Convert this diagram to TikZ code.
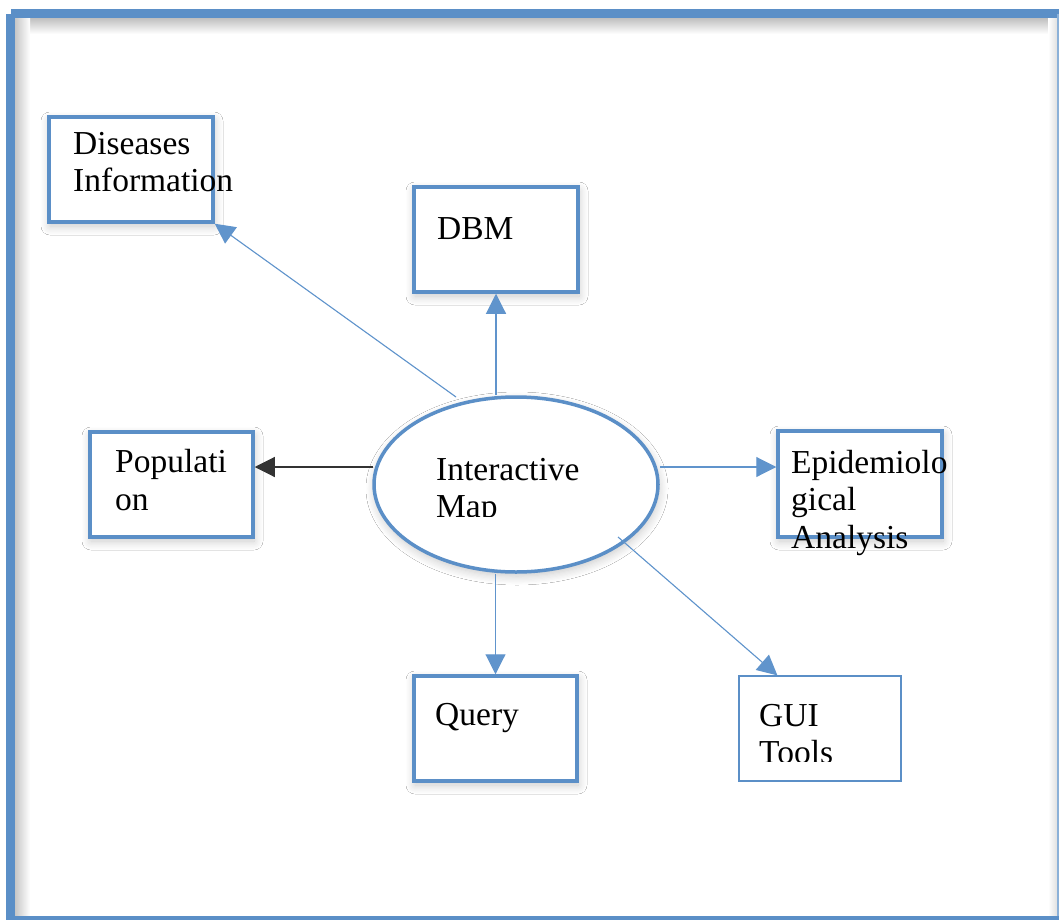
\documentclass[tikz,border=0pt]{standalone}
\usepackage{fontspec}
\setmainfont{Liberation Serif}
\usetikzlibrary{arrows.meta,shapes.geometric,shadows.blur,calc}
\definecolor{frameblue}{HTML}{5B8FC7}
\definecolor{lineblue}{HTML}{6094CC}

\begin{document}
\begin{tikzpicture}[x=1pt,y=-1pt,
  soft/.style={blur shadow={shadow xshift=1pt, shadow yshift=-4pt,
      shadow blur radius=9pt, shadow blur steps=8, shadow opacity=22}},
  box/.style={rectangle, draw=frameblue, line width=3.5pt, fill=white,
      inner sep=0pt, soft},
  thinbox/.style={rectangle, draw=frameblue, line width=1.2pt, fill=white,
      inner sep=0pt},
  oval/.style={ellipse, draw=frameblue, line width=3.5pt, fill=white,
      inner sep=0pt, soft},
  txt/.style={anchor=base west, inner sep=0pt, align=left,
      font=\fontsize{33.5}{37.5}\selectfont},
  conn/.style={draw=lineblue, line width=1.1pt,
      -{Triangle[length=20pt,width=20pt]}, fill=lineblue},
  connk/.style={draw=black!80, line width=1.1pt,
      -{Triangle[length=20pt,width=20pt]}, fill=black}]

\useasboundingbox (0,0) rectangle (1059,920);
\fill[white] (0,0) rectangle (1059,920);

% outer frame: heavy top and left rules, light right and bottom rules
\shade[top color=black!25, bottom color=white] (15,18) rectangle (1057,34);
\shade[left color=black!22, right color=white] (15,18) rectangle (30,916);
\shade[left color=white, right color=black!12] (1048,18) rectangle (1057,916);
\fill[frameblue] (11,9) rectangle (1059,18);
\fill[frameblue] (6,14) rectangle (15,920);
\fill[frameblue!70] (1057,14) rectangle (1059,916);
\fill[frameblue] (6,916) rectangle (1059,920);

% boxes
\node[box, minimum width=164pt, minimum height=105pt] (dis) at (131,169.5) {};
\node[box, minimum width=164pt, minimum height=105pt] (dbm) at (496,239.5) {};
\node[box, minimum width=163pt, minimum height=105pt] (pop) at (171.5,484.5) {};
\node[box, minimum width=164pt, minimum height=106pt] (epi) at (860,484) {};
\node[box, minimum width=163pt, minimum height=105pt] (query) at (495.5,728.5) {};
\node[thinbox, minimum width=162pt, minimum height=105pt] (gui) at (820,728.5) {};
\node[oval, minimum width=284pt, minimum height=175pt] (imap) at (516,484.5) {};

% connectors
\coordinate (imap-dis) at (456,397);
\coordinate (imap-gui) at (618,537);
\draw[conn] (imap-dis) -- (dis.south east);
\draw[conn] (dbm.south |- imap.north) -- (dbm.south);
\draw[conn] (query.north |- imap.south) -- (query.north);
\draw[connk] ($(imap.west)+(1,-17.5)$) -- ($(pop.east)+(0,-17.5)$);
\draw[conn] ($(imap.east)+(0,-17.5)$) -- ($(epi.west)+(0,-17)$);
\draw[conn] (imap-gui) -- ($(gui.north west)+(39,0)$);

% labels (multi-line labels are placed by the baseline of their last line)
\node[txt] (dis-t) at (73,192) {Diseases\\Information};
\node[txt] (dbm-t) at (437,239) {DBM};
\node[txt] (pop-t) at (115,510) {Populati\\on};
\node[txt] (epi-t) at (791,548) {Epidemiolo\\gical\\Analysis};
\node[txt] (query-t) at (435,725) {Query};
\begin{scope}
  \clip (0,0) rectangle (1059,761);
  \node[txt] (gui-t) at (759,763.5) {GUI\\Tools};
\end{scope}
\begin{scope}
  \clip (0,0) rectangle (1059,516);
  \node[txt] (imap-t) at (436,517.5) {Interactive\\Map};
\end{scope}
\end{tikzpicture}
\end{document}
